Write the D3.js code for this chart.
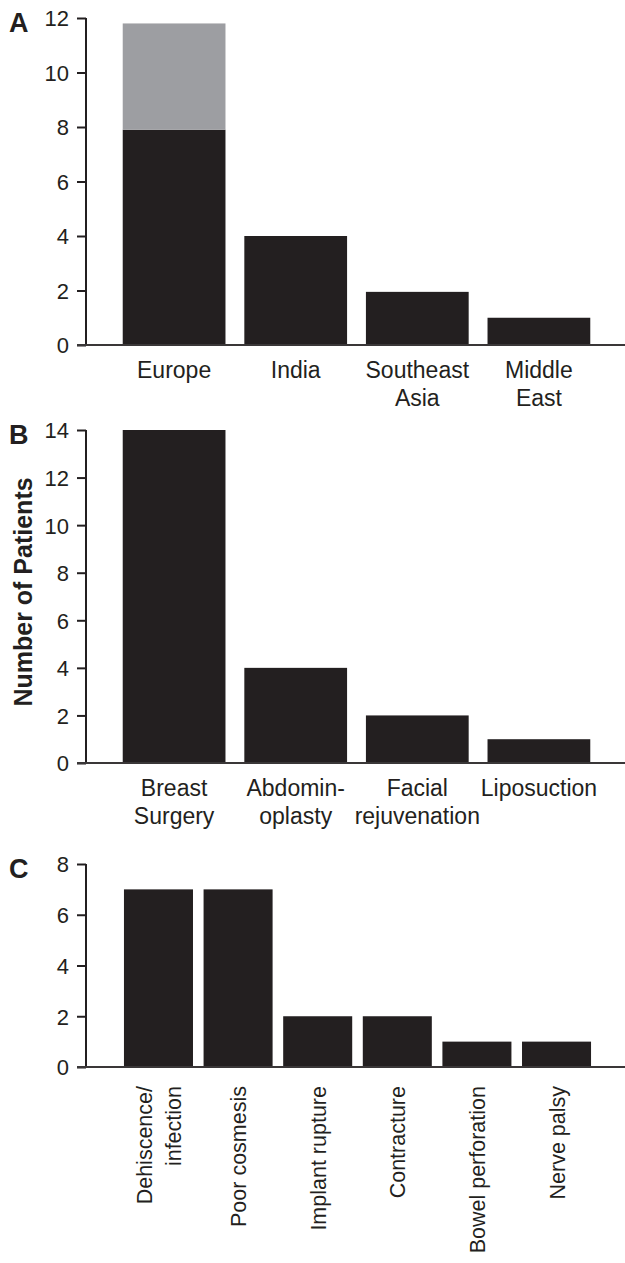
<!DOCTYPE html>
<html lang="en">
    <head>
        <meta charset="UTF-8" />
        <title>Patients by region, procedure and complication</title>
        <style>
            body {
                margin: 0;
                background: #fff;
                font-family: 'Liberation Sans', Arial, sans-serif;
            }
            .tick text {
                font-size: 22px;
                fill: #231f20;
            }
            .cat {
                font-size: 23px;
                fill: #231f20;
            }
            .cat.rot {
                font-size: 21.5px;
            }
            .panel-label {
                font-size: 27px;
                font-weight: bold;
                fill: #231f20;
            }
        </style>
    </head>
    <body>
        <svg width="625" height="1263"></svg>
        <script src="https://d3js.org/d3.v7.min.js"></script>
        <script>
            // panel A - region
            const regions = [['Europe'], ['India'], ['Southeast', 'Asia'], ['Middle', 'East']];
            const regionMain = [7.9, 4, 1.95, 1];
            const regionExtra = [3.9, 0, 0, 0];
            const regionTicks = [0, 2, 4, 6, 8, 10, 12];

            // panel B - procedure
            const procedures = [['Breast', 'Surgery'], ['Abdomin-', 'oplasty'], ['Facial', 'rejuvenation'], ['Liposuction']];
            const procedureVals = [14, 4, 2, 1];
            const procedureTicks = [0, 2, 4, 6, 8, 10, 12, 14];

            // panel C - complications
            const complications = [['Dehiscence/', 'infection'], ['Poor cosmesis'], ['Implant rupture'], ['Contracture'], ['Bowel perforation'], ['Nerve palsy']];
            const complicationVals = [7, 7, 2, 2, 1, 1];
            const complicationTicks = [0, 2, 4, 6, 8];

            const svg = d3.select('svg');
            const dark = '#231f20',
                grey = '#9d9ea2';
            const axisX = 86;

            function panel(opts) {
                const g = svg.append('g');
                const labels = opts.cats.map((c) => c.join(' '));
                const x = d3.scaleBand().domain(labels).range(opts.xRange).paddingInner(opts.pi).paddingOuter(opts.po);
                const y = d3.scaleLinear().domain([0, opts.max]).range([opts.y0, opts.y1]);

                // bars
                g.selectAll('rect.main')
                    .data(opts.vals)
                    .join('rect')
                    .attr('class', 'main')
                    .attr('x', (d, i) => x(labels[i]))
                    .attr('width', x.bandwidth())
                    .attr('y', (d) => y(d))
                    .attr('height', (d) => y(0) - y(d))
                    .attr('fill', dark);

                if (opts.extra) {
                    g.selectAll('rect.extra')
                        .data(opts.extra.filter((d) => d > 0))
                        .join('rect')
                        .attr('class', 'extra')
                        .attr('x', (d, i) => x(labels[i]))
                        .attr('width', x.bandwidth())
                        .attr('y', (d, i) => y(opts.vals[i] + d))
                        .attr('height', (d, i) => y(opts.vals[i]) - y(opts.vals[i] + d))
                        .attr('fill', grey);
                }

                // y axis
                const ax = g
                    .append('g')
                    .attr('transform', `translate(${axisX},0)`)
                    .call(d3.axisLeft(y).tickValues(opts.ticks).tickSize(9).tickPadding(8).tickFormat(d3.format('d')));
                ax.select('.domain').attr('stroke', dark).attr('stroke-width', 2).attr('d', `M0,${y(opts.max)}V${y(0)}`);
                ax.selectAll('.tick line').attr('stroke', dark).attr('stroke-width', 2);
                ax.selectAll('.tick text').attr('dy', '0.36em');

                // baseline
                g.append('line')
                    .attr('x1', axisX - 9)
                    .attr('x2', 625)
                    .attr('y1', y(0))
                    .attr('y2', y(0))
                    .attr('stroke', '#3a3738')
                    .attr('stroke-width', 2);

                // category labels
                if (opts.rotate) {
                    const t = g
                        .selectAll('text.cat')
                        .data(opts.cats)
                        .join('text')
                        .attr('class', 'cat rot')
                        .attr('text-anchor', 'end')
                        .attr('transform', (d, i) => {
                            const cx = x(labels[i]) + x.bandwidth() / 2 - ((d.length - 1) * 29) / 2 + 8;
                            return `translate(${cx},${y(0) + 19}) rotate(-90)`;
                        });
                    t.selectAll('tspan')
                        .data((d) => d)
                        .join('tspan')
                        .attr('x', 0)
                        .attr('dy', (d, i) => (i === 0 ? 0 : 29))
                        .text((d) => d);
                } else {
                    const t = g
                        .selectAll('text.cat')
                        .data(opts.cats)
                        .join('text')
                        .attr('class', 'cat')
                        .attr('text-anchor', 'middle')
                        .attr('transform', (d, i) => `translate(${x(labels[i]) + x.bandwidth() / 2},${y(0) + 33})`);
                    t.selectAll('tspan')
                        .data((d) => d)
                        .join('tspan')
                        .attr('x', 0)
                        .attr('dy', (d, i) => (i === 0 ? 0 : 28))
                        .text((d) => d);
                }

                g.append('text')
                    .attr('class', 'panel-label')
                    .attr('x', 9)
                    .attr('y', opts.y1 + 14)
                    .text(opts.letter);
                return g;
            }

            panel({
                letter: 'A',
                cats: regions,
                vals: regionMain,
                extra: regionExtra,
                ticks: regionTicks,
                max: 12,
                y0: 345,
                y1: 18,
                xRange: [113, 600],
                pi: 0.155,
                po: 0.08,
            });

            panel({
                letter: 'B',
                cats: procedures,
                vals: procedureVals,
                ticks: procedureTicks,
                max: 14,
                y0: 763,
                y1: 430,
                xRange: [113, 600],
                pi: 0.155,
                po: 0.08,
            });

            panel({
                letter: 'C',
                cats: complications,
                vals: complicationVals,
                ticks: complicationTicks,
                max: 8,
                y0: 1067,
                y1: 864,
                xRange: [116, 599],
                pi: 0.133,
                po: 0.1,
                rotate: true,
            });

            // shared y title
            svg.append('text')
                .attr('transform', 'translate(32,592) rotate(-90)')
                .attr('text-anchor', 'middle')
                .style('font-size', '25px')
                .style('font-weight', 'bold')
                .attr('fill', dark)
                .text('Number of Patients');
        </script>
    </body>
</html>
